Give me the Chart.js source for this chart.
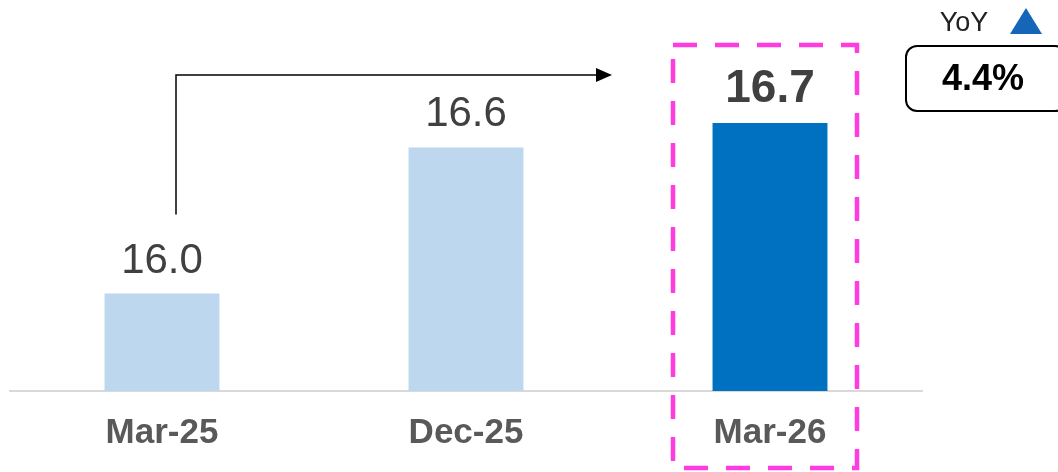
<!DOCTYPE html>
<html>
<head>
<meta charset="utf-8">
<script src="https://cdn.jsdelivr.net/npm/chart.js@4/dist/chart.umd.min.js"></script>
<style>
  html, body { margin: 0; padding: 0; background: #fff; }
  #wrap { position: relative; width: 1058px; height: 472px; }
</style>
</head>
<body>
<div id="wrap"><canvas id="balanceChart"></canvas></div>
<script>
const periods = ['Mar-25', 'Dec-25', 'Mar-26'];
const values = [16.0, 16.6, 16.7];
const barColors = ['#bdd7ee', '#bdd7ee', '#0070c0'];
const highlightIndex = 2;
const yoyLabel = 'YoY';
const yoyChange = '4.4%';

const FONT = '"Liberation Sans", Arial, sans-serif';

// value labels, the YoY arrow, the dashed highlight box and the YoY badge
const annotations = {
    id: 'annotations',
    afterDatasetsDraw(chart) {
        const ctx = chart.ctx;
        const bars = chart.getDatasetMeta(0).data;
        const area = chart.chartArea;

        ctx.save();
        ctx.textAlign = 'center';
        ctx.textBaseline = 'alphabetic';
        bars.forEach((bar, i) => {
            const bold = i === highlightIndex;
            ctx.font = (bold ? 'bold 46px ' : '42px ') + FONT;
            ctx.fillStyle = '#404040';
            ctx.fillText(values[i].toFixed(1), bar.x, bar.y - 21);
        });

        // elbow arrow from first period to the highlighted one
        const x0 = bars[0].x + 14;
        const yBottom = bars[0].y - 79;
        const yTop = area.top + 25;
        const xEnd = bars[highlightIndex].x - 158;
        ctx.strokeStyle = '#000';
        ctx.lineWidth = 1.5;
        ctx.beginPath();
        ctx.moveTo(x0, yBottom);
        ctx.lineTo(x0, yTop);
        ctx.lineTo(xEnd - 14, yTop);
        ctx.stroke();
        ctx.fillStyle = '#000';
        ctx.beginPath();
        ctx.moveTo(xEnd, yTop);
        ctx.lineTo(xEnd - 16, yTop - 7);
        ctx.lineTo(xEnd - 16, yTop + 7);
        ctx.closePath();
        ctx.fill();

        // dashed box around the latest period
        const hx = bars[highlightIndex].x;
        ctx.strokeStyle = '#ff3ce0';
        ctx.lineWidth = 4.5;
        ctx.setLineDash([24, 18]);
        ctx.strokeRect(hx - 97, 45, 184, 423);
        ctx.setLineDash([]);

        // YoY badge
        ctx.font = '27px ' + FONT;
        ctx.fillStyle = '#222';
        ctx.textBaseline = 'middle';
        ctx.fillText(yoyLabel, 964, 24);
        ctx.fillStyle = '#1565b8';
        ctx.beginPath();
        ctx.moveTo(1026, 8);
        ctx.lineTo(1042, 34);
        ctx.lineTo(1010, 34);
        ctx.closePath();
        ctx.fill();

        ctx.strokeStyle = '#000';
        ctx.lineWidth = 2;
        ctx.beginPath();
        ctx.roundRect(906, 46, 160, 65, 11);
        ctx.stroke();
        ctx.font = 'bold 36px ' + FONT;
        ctx.fillStyle = '#000';
        ctx.fillText(yoyChange, 983, 80);
        ctx.restore();
    }
};

new Chart(document.getElementById('balanceChart'), {
    type: 'bar',
    data: {
        labels: periods,
        datasets: [{
            data: values,
            backgroundColor: barColors,
            barPercentage: 0.378,
            categoryPercentage: 1
        }]
    },
    options: {
        responsive: true,
        maintainAspectRatio: false,
        animation: false,
        layout: { padding: { left: 10, right: 136, top: 50, bottom: 5 } },
        plugins: {
            legend: { display: false },
            tooltip: { enabled: false }
        },
        scales: {
            x: {
                grid: { display: false },
                border: { display: true, color: '#d9d9d9', width: 2 },
                ticks: {
                    color: '#595959',
                    padding: 13,
                    font: { family: FONT, size: 35, weight: 'bold' }
                }
            },
            y: {
                display: false,
                min: 15.6,
                max: 17.0
            }
        }
    },
    plugins: [annotations]
});
</script>
</body>
</html>
